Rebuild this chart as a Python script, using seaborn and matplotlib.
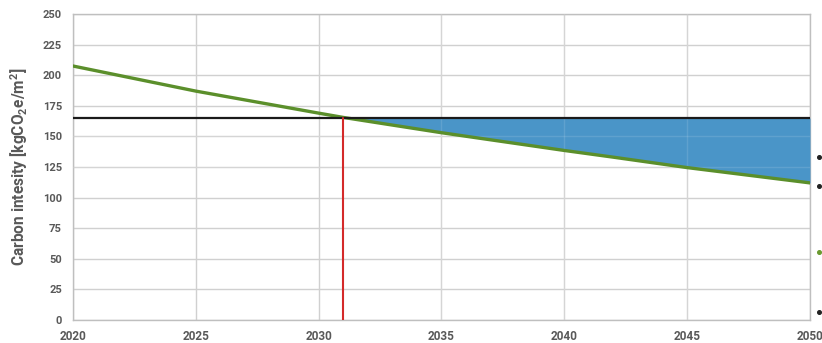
import numpy as np
import pandas as pd
import seaborn as sns
import matplotlib.pyplot as plt
from matplotlib.lines import Line2D

# Pathway of building carbon intensity against the carbon budget limit
years = [2020, 2025, 2030, 2031, 2035, 2040, 2042, 2045, 2050]
intensity = [207.5, 187.0, 169.0, 165.5, 153.0, 138.5, 133.0, 124.5, 112.0]
limit_value = 165
crossing_year = 2031

x_ticks = [2020, 2025, 2030, 2035, 2040, 2045, 2050]
y_ticks = [0, 25, 50, 75, 100, 125, 150, 175, 200, 225, 250]
y_label = "Carbon intesity [kgCO$_2$e/m$^2$]"

df = pd.DataFrame({"year": years, "intensity": intensity})

sns.set_theme(style="white")
plt.rcParams["font.family"] = ["Roboto", "DejaVu Sans"]
plt.rcParams["mathtext.fontset"] = "custom"
plt.rcParams["mathtext.rm"] = "Roboto:bold"
plt.rcParams["mathtext.it"] = "Roboto:bold"
plt.rcParams["mathtext.bf"] = "Roboto:bold"

fig = plt.figure(figsize=(8.22, 3.43), dpi=100)
ax = fig.add_axes([0.0888, 0.0671, 0.8966, 0.8921])

grey_text = "#595959"
grid_col = "#d0d0d0"

# shaded gap between the limit and the pathway
yr = np.array(years, dtype=float)
val = np.array(intensity, dtype=float)
ax.fill_between(yr, val, limit_value, where=(yr >= crossing_year) & (val <= limit_value + 0.6),
                interpolate=True, color="#4a95c8", linewidth=0, zorder=3)

sns.lineplot(data=df, x="year", y="intensity", ax=ax, color="#5b8f2b",
             linewidth=2.4, zorder=5)
ax.axhline(limit_value, color="#1a1a1a", linewidth=1.6, zorder=6)
ax.plot([crossing_year, crossing_year], [0, limit_value], color="#d42a2a",
        linewidth=1.5, zorder=6)

ax.set_xlim(2020, 2050)
ax.set_ylim(0, 250)
ax.set_xticks(x_ticks)
ax.set_yticks(y_ticks)
ax.grid(True, color=grid_col, linewidth=1.0, zorder=0)
ax.set_axisbelow(True)
# faint grid lines showing through the shaded area
for yv in y_ticks:
    if 112 < yv < limit_value:
        ax.axhline(yv, color="#ffffff", alpha=0.12, linewidth=1.0, zorder=4)
for xv in x_ticks:
    if crossing_year < xv < 2050:
        ax.axvline(xv, color="#ffffff", alpha=0.12, linewidth=1.0, zorder=4)
for s in ax.spines.values():
    s.set_color("#bfbfbf")
    s.set_linewidth(1.0)

ax.tick_params(axis="y", labelsize=8, colors=grey_text, length=0, pad=8)
ax.tick_params(axis="x", labelsize=8.5, colors=grey_text, length=0, pad=7)
for lab in ax.get_xticklabels() + ax.get_yticklabels():
    lab.set_fontweight("bold")
ax.set_xlabel("")
ax.set_ylabel(y_label, fontsize=11.2, fontweight="bold", color=grey_text, labelpad=9)

# partially visible legend symbols at the right edge
for yy, col in [(157, "#222222"), (186, "#222222"), (252, "#6a9a30"), (312, "#222222")]:
    fig.add_artist(Line2D([819 / 822], [1 - yy / 343], transform=fig.transFigure,
                          marker="o", markersize=2.6, color=col, linestyle="none"))

fig.savefig("out.png", dpi=100)
